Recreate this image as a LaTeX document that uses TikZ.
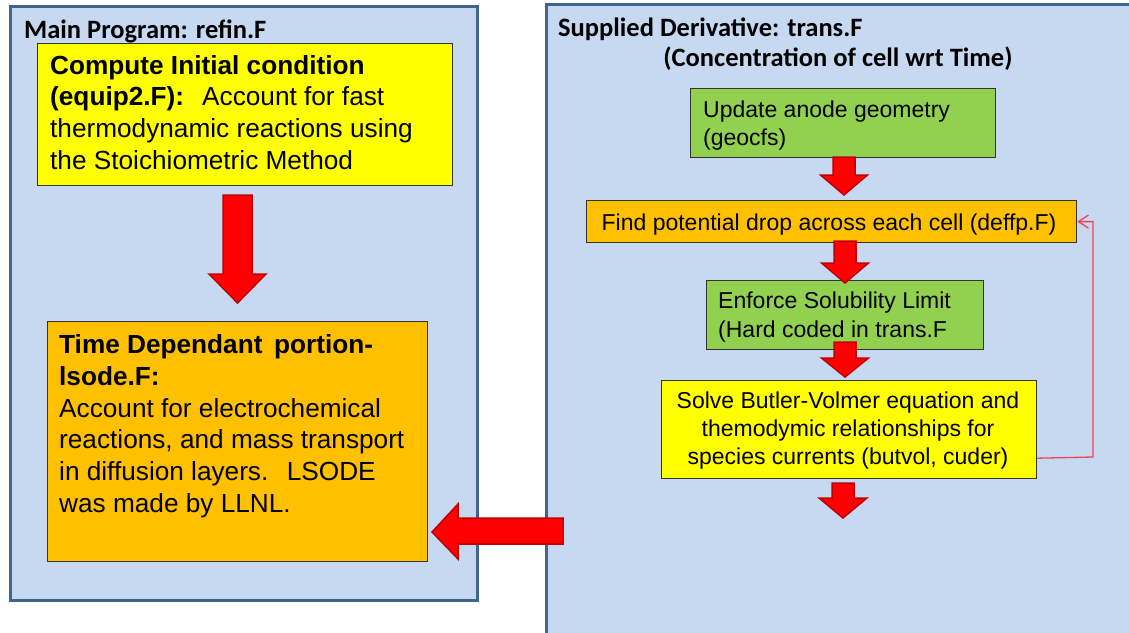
\documentclass[tikz,border=0pt]{standalone}
\usepackage{fontspec}
\setmainfont{Liberation Sans}
\newfontfamily\titlefont{Carlito}
\usetikzlibrary{arrows.meta}

\definecolor{panelfill}{HTML}{C6D9F1}
\definecolor{paneledge}{HTML}{41648F}
\definecolor{boxyellow}{HTML}{FFFF00}
\definecolor{boxorange}{HTML}{FFC000}
\definecolor{boxgreen}{HTML}{92D050}
\definecolor{arrowred}{HTML}{FF0000}
\definecolor{arrowedge}{HTML}{C00000}
\definecolor{loopred}{HTML}{EE4455}

\tikzset{
  panel/.style={draw=paneledge, line width=3pt, fill=panelfill},
  stepbox/.style={draw=black!80, line width=1.2pt, inner sep=0pt, anchor=north west},
  blockarrow/.style={fill=arrowred, draw=arrowedge, line width=1.5pt, line join=miter},
  loopline/.style={draw=loopred, line width=1.3pt, -{Straight Barb[length=10pt,width=13pt]}},
  paneltitle/.style={inner sep=0pt, font=\titlefont\bfseries\fontsize{26.5}{30}\selectfont},
  rtext/.style={inner sep=0pt, font=\fontsize{23}{28}\selectfont},
  ltext/.style={inner sep=0pt, font=\fontsize{26.2}{32}\selectfont},
}

% downward block arrow: centre x, top y, head y, tip y, half shaft, half head
\newcommand\blockdown[6]{%
  \filldraw[blockarrow] ({#1-#5},#2) -- ({#1+#5},#2) -- ({#1+#5},#3) -- ({#1+#6},#3)
    -- (#1,#4) -- ({#1-#6},#3) -- ({#1-#5},#3) -- cycle;}

\begin{document}
\begin{tikzpicture}[x=1pt, y=-1pt]
\useasboundingbox (0,0) rectangle (1129,632);
\clip (0,0) rectangle (1129,632);

% ---------------- left panel: main program ----------------
\draw[panel] (10,6) rectangle (477,600);
\node[paneltitle, anchor=base west] (maintitle) at (24,38) {Main Program: refin.F};

\node[stepbox, fill=boxyellow, minimum width=415pt, minimum height=142pt] (init) at (37,43) {};
\node[ltext, anchor=base west] (initA) at (50,74) {\bfseries Compute Initial condition};
\node[ltext, anchor=base west] (initB) at (50,105) {\bfseries (equip2.F):};
\node[ltext, anchor=base west] (initC) at (202,105) {Account for fast};
\node[ltext, anchor=base west] (initD) at (50,137) {thermodynamic reactions using};
\node[ltext, anchor=base west] (initE) at (50,169) {the Stoichiometric Method};

\node[stepbox, fill=boxorange, minimum width=380pt, minimum height=240pt] (lsode) at (47,321) {};
\node[ltext, anchor=base west] (lsA) at (59,353) {\bfseries Time Dependant\, portion-};
\node[ltext, anchor=base west] (lsB) at (59,385) {\bfseries lsode.F:};
\node[ltext, anchor=base west] (lsC) at (59,417) {Account for electrochemical};
\node[ltext, anchor=base west] (lsD) at (59,448) {reactions, and mass transport};
\node[ltext, anchor=base west] (lsE) at (59,480) {in diffusion layers.\,\, LSODE};
\node[ltext, anchor=base west] (lsF) at (59,512) {was made by LLNL.};

\blockdown{237.5}{195}{274}{303}{14.5}{28.5}

% ---------------- right panel: supplied derivative ----------------
\draw[panel] (546,4) rectangle (1140,645);
\node[paneltitle, anchor=base west] (dertitle) at (558,36) {Supplied Derivative: trans.F};
\node[paneltitle, anchor=base] (dersub) at (838,66) {(Concentration of cell wrt Time)};

\node[stepbox, fill=boxgreen, minimum width=305pt, minimum height=69pt] (geo) at (690,88) {};
\node[rtext, anchor=base west] (geoA) at (703,117) {Update anode geometry};
\node[rtext, anchor=base west] (geoB) at (703,145) {(geocfs)};

\node[stepbox, fill=boxorange, minimum width=490pt, minimum height=42pt] (drop) at (586,200) {};
\node[rtext, anchor=base] (dropA) at (829,230) {Find potential drop across each cell (deffp.F)};

\node[stepbox, fill=boxgreen, minimum width=277pt, minimum height=69pt] (sol) at (706,280) {};
\node[rtext, anchor=base west] (solA) at (718,308) {Enforce Solubility Limit};
\node[rtext, anchor=base west] (solB) at (718,337) {(Hard coded in trans.F};

\node[stepbox, fill=boxyellow, minimum width=375pt, minimum height=98pt] (bv) at (661,380) {};
\node[rtext, anchor=base] (bvA) at (848,408) {Solve Butler-Volmer equation and};
\node[rtext, anchor=base] (bvB) at (848,436) {themodymic relationships for};
\node[rtext, anchor=base] (bvC) at (848,464) {species currents (butvol, cuder)};

\blockdown{844}{157}{175}{195}{11}{23.5}
\blockdown{845}{241}{263}{283}{11}{23.5}
\blockdown{845}{342}{358}{377}{11}{23.5}
\blockdown{843}{483}{498}{518}{11}{24}

% feedback loop from the Butler-Volmer step back to the potential drop
\coordinate (loopcorner) at (1093,457);
\draw[loopline] ([yshift=21pt]bv.south east) -- (loopcorner) |- (drop.east);

% hand-off from the derivative routine back to the integrator
\filldraw[blockarrow] (563,518) -- (458,518) -- (458,504) -- (432,532)
  -- (458,559) -- (458,544) -- (563,544) -- cycle;
\end{tikzpicture}
\end{document}
